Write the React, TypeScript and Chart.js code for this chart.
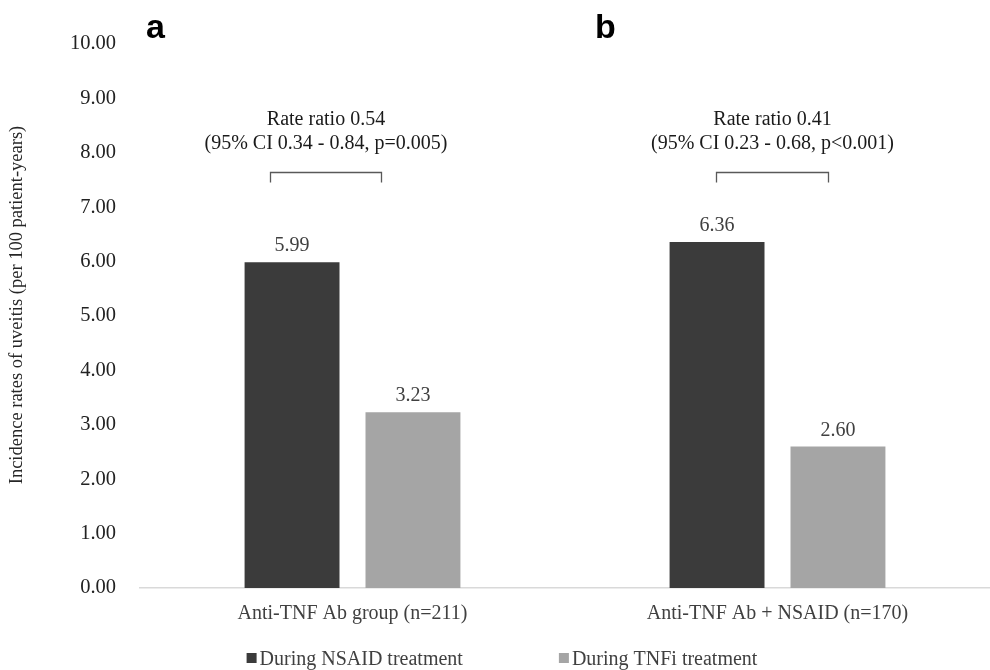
import React, { useEffect, useRef } from "react";
import { Chart, registerables } from "chart.js";

Chart.register(...registerables);

// ---------- data ----------
const categories = ["Anti-TNF Ab group (n=211)", "Anti-TNF Ab + NSAID (n=170)"];
const seriesNames = ["During NSAID treatment", "During TNFi treatment"];
const nsaidValues = [5.99, 6.36];
const tnfiValues = [3.23, 2.6];
const seriesColors = ["#3b3b3b", "#a5a5a5"];
const panelLetters = ["a", "b"];
const rateRatioTitles = ["Rate ratio 0.54", "Rate ratio 0.41"];
const rateRatioDetails = ["(95% CI 0.34 - 0.84, p=0.005)", "(95% CI 0.23 - 0.68, p<0.001)"];
const yMin = 0;
const yMax = 10;
const yStep = 1;
const yTitle = "Incidence rates of uveitis (per 100 patient-years)";

const SERIF = "'Liberation Serif', 'Times New Roman', serif";

// bracket placement (fractions of a category width relative to its centre, and value level)
const bracketSpans = [
  [-0.194, 0.067],
  [-0.145, 0.119],
];
const bracketLevel = 7.65;

const overlayPlugin = {
  id: "overlay",
  afterDatasetsDraw(chart: any) {
    const ctx = chart.ctx;
    const xs = chart.scales.x;
    const ys = chart.scales.y;
    const catW = xs.width / categories.length;

    // y-axis title
    ctx.save();
    ctx.font = `18.5px ${SERIF}`;
    ctx.fillStyle = "#262626";
    ctx.textAlign = "center";
    ctx.textBaseline = "middle";
    ctx.translate(17, 305);
    ctx.rotate(-Math.PI / 2);
    ctx.fillText(yTitle, 0, 0);
    ctx.restore();

    // value labels
    ctx.save();
    ctx.font = `20px ${SERIF}`;
    ctx.fillStyle = "#404040";
    ctx.textAlign = "center";
    ctx.textBaseline = "alphabetic";
    chart.data.datasets.forEach((ds: any, di: number) => {
      const meta = chart.getDatasetMeta(di);
      meta.data.forEach((bar: any, i: number) => {
        ctx.fillText(Number(ds.data[i]).toFixed(2), bar.x, bar.y - 11);
      });
    });
    ctx.restore();

    // brackets + rate ratio text
    ctx.save();
    categories.forEach((_, i) => {
      const c = xs.getPixelForValue(i);
      const x1 = Math.round(c + bracketSpans[i][0] * catW) + 0.5;
      const x2 = Math.round(c + bracketSpans[i][1] * catW) + 0.5;
      const y = Math.round(ys.getPixelForValue(bracketLevel)) + 0.5;
      ctx.strokeStyle = "#595959";
      ctx.lineWidth = 1.3;
      ctx.beginPath();
      ctx.moveTo(x1, y + 10);
      ctx.lineTo(x1, y);
      ctx.lineTo(x2, y);
      ctx.lineTo(x2, y + 10);
      ctx.stroke();

      const mid = (x1 + x2) / 2;
      ctx.font = `20px ${SERIF}`;
      ctx.fillStyle = "#1a1a1a";
      ctx.textAlign = "center";
      ctx.textBaseline = "alphabetic";
      ctx.fillText(rateRatioTitles[i], mid, y - 48);
      ctx.fillText(rateRatioDetails[i], mid, y - 24);
    });
    ctx.restore();

    // panel letters
    ctx.save();
    ctx.font = `bold 34px 'Liberation Sans', Arial, sans-serif`;
    ctx.fillStyle = "#000";
    ctx.textAlign = "left";
    ctx.textBaseline = "alphabetic";
    const letterX = [chart.chartArea.left + 6, chart.chartArea.left + catW + 30];
    panelLetters.forEach((l, i) => ctx.fillText(l, letterX[i], 38));
    ctx.restore();

    // legend
    ctx.save();
    ctx.font = `20px ${SERIF}`;
    ctx.textBaseline = "alphabetic";
    ctx.textAlign = "left";
    const box = 10;
    const gap = 3;
    const spacing = 96;
    const widths = seriesNames.map((n) => ctx.measureText(n).width);
    const total = widths.reduce((s, w) => s + box + gap + w, 0) + spacing * (seriesNames.length - 1);
    let x = 502 - total / 2;
    const baseY = 665;
    seriesNames.forEach((n, i) => {
      ctx.fillStyle = seriesColors[i];
      ctx.fillRect(x, baseY - 12, box, box);
      x += box + gap;
      ctx.fillStyle = "#404040";
      ctx.fillText(n, x, baseY);
      x += widths[i] + spacing;
    });
    ctx.restore();
  },
};

export default function App() {
  const ref = useRef<HTMLCanvasElement>(null);
  useEffect(() => {
    if (!ref.current) return;
    const chart = new Chart(ref.current, {
      type: "bar",
      data: {
        labels: categories,
        datasets: [
          {
            label: seriesNames[0],
            data: nsaidValues,
            backgroundColor: seriesColors[0],
            categoryPercentage: 0.569,
            barPercentage: 0.785,
          },
          {
            label: seriesNames[1],
            data: tnfiValues,
            backgroundColor: seriesColors[1],
            categoryPercentage: 0.569,
            barPercentage: 0.785,
          },
        ],
      },
      options: {
        responsive: false,
        animation: false,
        devicePixelRatio: 1,
        layout: { padding: { top: 44, right: 0, bottom: 0, left: 0 } },
        plugins: {
          legend: { display: false },
          tooltip: { enabled: false },
        },
        scales: {
          x: {
            grid: { display: false, drawTicks: false },
            border: { display: true, color: "#d9d9d9", width: 1.5 },
            ticks: { color: "#404040", font: { family: SERIF, size: 20 }, padding: 14, maxRotation: 0 },
            afterFit: (s: any) => {
              s.height = 82;
            },
          },
          y: {
            min: yMin,
            max: yMax,
            grid: { display: false, drawTicks: false },
            border: { display: false },
            ticks: {
              stepSize: yStep,
              color: "#222",
              font: { family: SERIF, size: 20.5 },
              padding: 24,
              callback: (v: any) => Number(v).toFixed(2),
            },
            afterFit: (s: any) => {
              s.width = 140;
            },
          },
        },
      },
      plugins: [overlayPlugin],
    });
    return () => chart.destroy();
  }, []);
  return (
    <div style={{ position: "absolute", left: 0, top: 0, width: 990, height: 670, background: "#fff" }}>
      <canvas ref={ref} width={990} height={670} />
    </div>
  );
}
